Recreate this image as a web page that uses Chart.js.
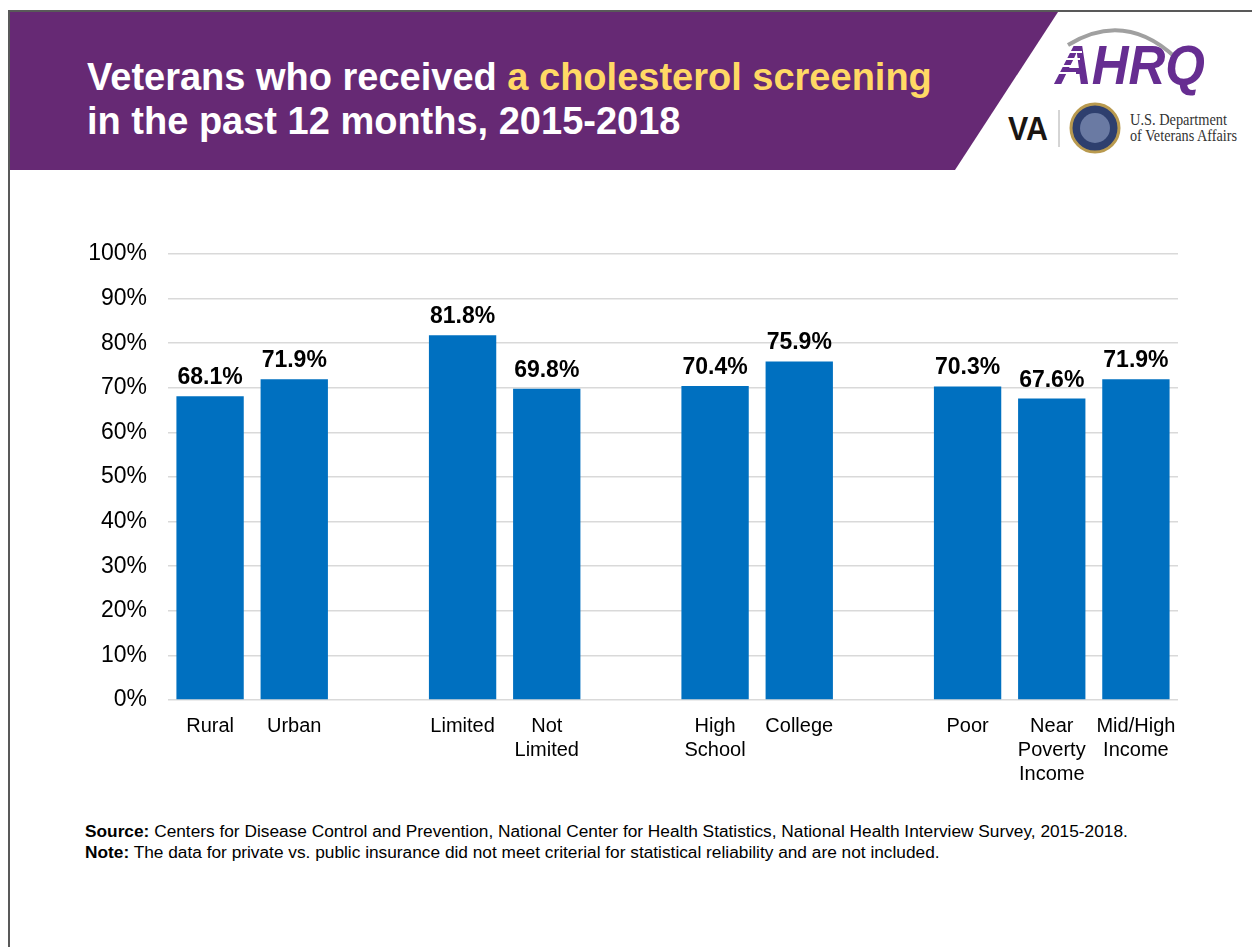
<!DOCTYPE html>
<html>
<head>
<meta charset="utf-8">
<script src="https://cdn.jsdelivr.net/npm/chart.js@4.4.1/dist/chart.umd.min.js"></script>
<style>
  html, body { margin: 0; padding: 0; background: #fff; }
  body { width: 1252px; height: 947px; position: relative; overflow: hidden; font-family: "Liberation Sans", Arial, sans-serif; }
  #frameTop { position: absolute; left: 8px; top: 10px; width: 1244px; height: 2px; background: #595959; }
  #frameLeft { position: absolute; left: 8px; top: 10px; width: 2px; height: 937px; background: #595959; }
  #banner {
    position: absolute; left: 10px; top: 12px; width: 1048px; height: 158px; background: #662974;
    clip-path: polygon(0 0, 1048px 0, 945px 158px, 0 158px);
  }
  #title {
    position: absolute; left: 87px; top: 55px; color: #fff; font-weight: bold; font-size: 38px; line-height: 44px;
  }
  #title .hl { color: #FFD965; }
  #logos { position: absolute; left: 990px; top: 20px; }
  #chartBox { position: absolute; left: 0; top: 230px; width: 1190px; height: 562px; }
  #notes { position: absolute; left: 85px; top: 821px; font-size: 17.3px; line-height: 21px; color: #000; }
</style>
</head>
<body>
<div id="frameTop"></div>
<div id="frameLeft"></div>
<div id="banner"></div>
<div id="title">Veterans who received <span class="hl">a cholesterol screening</span><br>in the past 12 months, 2015-2018</div>

<svg id="logos" width="262" height="145" viewBox="0 0 262 145">
  <path d="M78 25 Q135 -10 186 38" fill="none" stroke="#a0a0a0" stroke-width="4"/>
  <text x="65" y="64" font-family="Liberation Sans, Arial" font-weight="bold" font-style="italic" font-size="56"
        textLength="150" lengthAdjust="spacingAndGlyphs" fill="#662D91">AHRQ</text>
  <g stroke="#fff" stroke-width="2">
    <line x1="62" y1="32" x2="92" y2="32"/>
    <line x1="60" y1="39" x2="90" y2="39"/>
    <line x1="58" y1="46" x2="88" y2="46"/>
    <line x1="56" y1="53" x2="86" y2="53"/>
  </g>
  <text x="18" y="120" font-family="Liberation Sans, Arial" font-weight="bold" font-size="34"
        textLength="40" lengthAdjust="spacingAndGlyphs" fill="#1a1512">VA</text>
  <line x1="69" y1="90" x2="69" y2="127" stroke="#aaa" stroke-width="1"/>
  <circle cx="105" cy="108" r="24" fill="#2e3f6e" stroke="#b99a4f" stroke-width="3"/>
  <circle cx="105" cy="108" r="15" fill="#6a7aa3"/>
  <text x="140" y="105" font-family="Liberation Serif, serif" font-size="16"
        textLength="97" lengthAdjust="spacingAndGlyphs" fill="#333">U.S. Department</text>
  <text x="140" y="121" font-family="Liberation Serif, serif" font-size="16"
        textLength="107" lengthAdjust="spacingAndGlyphs" fill="#333">of Veterans Affairs</text>
</svg>

<div id="chartBox"><canvas id="chart"></canvas></div>

<div id="notes">
  <div><b>Source:</b> Centers for Disease Control and Prevention, National Center for Health Statistics, National Health Interview Survey, 2015-2018.</div>
  <div><b>Note:</b> The data for private vs. public insurance did not meet criterial for statistical reliability and are not included.</div>
</div>

<script>
// empty strings / nulls are the gaps between groups
const categories = [
  "Rural", "Urban", "",
  "Limited", ["Not", "Limited"], "",
  ["High", "School"], "College", "",
  "Poor", ["Near", "Poverty", "Income"], ["Mid/High", "Income"]
];
const screeningPct = [68.1, 71.9, null, 81.8, 69.8, null, 70.4, 75.9, null, 70.3, 67.6, 71.9];
const yTicks = [0, 10, 20, 30, 40, 50, 60, 70, 80, 90, 100];

document.addEventListener("DOMContentLoaded", function () {
  const ctx = document.getElementById("chart").getContext("2d");

  const valueLabels = {
    id: "valueLabels",
    afterDatasetsDraw(chart) {
      const c = chart.ctx;
      const meta = chart.getDatasetMeta(0);
      c.save();
      c.font = "bold 23px 'Liberation Sans', Arial, sans-serif";
      c.fillStyle = "#000";
      c.textAlign = "center";
      c.textBaseline = "alphabetic";
      meta.data.forEach((bar, i) => {
        const v = screeningPct[i];
        if (v == null) return;
        c.fillText(v.toFixed(1) + "%", bar.x, bar.y - 12);
      });
      c.restore();
    }
  };

  new Chart(ctx, {
    type: "bar",
    data: {
      labels: categories,
      datasets: [{
        data: screeningPct,
        backgroundColor: "#0070C0",
        barPercentage: 0.8,
        categoryPercentage: 1.0
      }]
    },
    options: {
      responsive: true,
      maintainAspectRatio: false,
      animation: false,
      layout: { padding: { top: 24, right: 12, left: 0, bottom: 0 } },
      plugins: {
        legend: { display: false },
        tooltip: { enabled: false }
      },
      scales: {
        x: {
          grid: { display: false, drawTicks: false },
          border: { display: false },
          ticks: {
            color: "#000",
            padding: 14,
            maxRotation: 0,
            autoSkip: false,
            font: { family: "'Liberation Sans', Arial, sans-serif", size: 20, lineHeight: 1.2 }
          },
          afterFit: (s) => { s.height = 92; }
        },
        y: {
          min: 0,
          max: 100,
          afterBuildTicks: (s) => { s.ticks = yTicks.map((v) => ({ value: v })); },
          grid: { color: "#D9D9D9", lineWidth: 1.5, drawTicks: false },
          border: { display: false },
          ticks: {
            color: "#000",
            padding: 21,
            callback: (v) => v + "%",
            font: { family: "'Liberation Sans', Arial, sans-serif", size: 23 }
          },
          afterFit: (s) => {
            s.width = 168;
            // tick padding would otherwise push the plot down
            s.paddingTop = 0;
            s.paddingBottom = 0;
          }
        }
      }
    },
    plugins: [valueLabels]
  });
});
</script>
</body>
</html>
